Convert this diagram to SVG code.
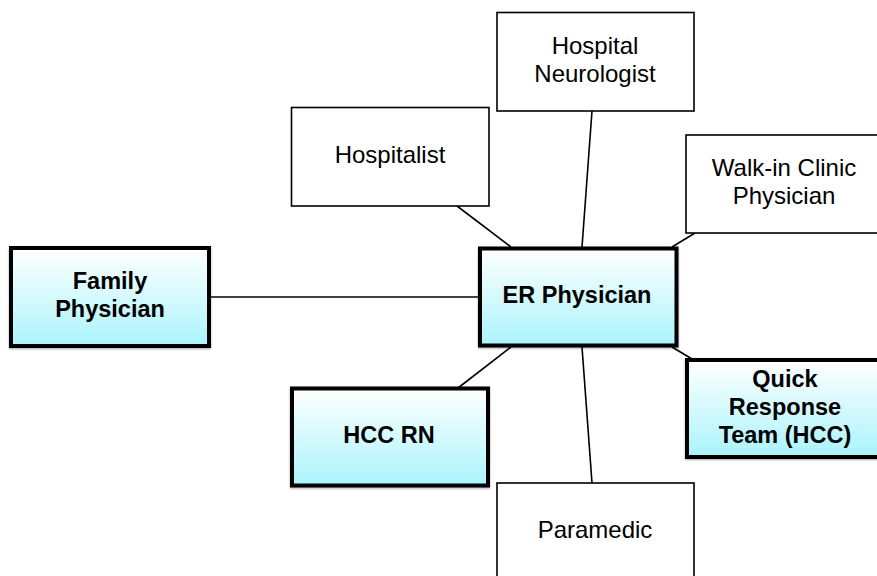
<svg xmlns="http://www.w3.org/2000/svg" width="877" height="576" viewBox="0 0 877 576">
<defs>
<linearGradient id="cyan" x1="0" y1="0" x2="0" y2="1">
<stop offset="0" stop-color="#ffffff"/>
<stop offset="1" stop-color="#aaf4fc"/>
</linearGradient>
<filter id="sh" x="-10%" y="-10%" width="120%" height="120%">
<feGaussianBlur in="SourceAlpha" stdDeviation="1"/>
<feOffset dx="0" dy="1" result="b"/>
<feComponentTransfer><feFuncA type="linear" slope="0.35"/></feComponentTransfer>
<feMerge><feMergeNode/><feMergeNode in="SourceGraphic"/></feMerge>
</filter>
</defs>
<style>
.thin{fill:#ffffff;stroke:#000;stroke-width:1.6}
.thick{fill:url(#cyan);stroke:#000;stroke-width:4;filter:url(#sh)}
.reg{font-family:"Liberation Sans",Arial,sans-serif;font-size:24px;fill:#000;text-anchor:middle}
.bold{font-family:"Liberation Sans",Arial,sans-serif;font-size:23.5px;font-weight:bold;fill:#000;text-anchor:middle}
.conn line{stroke:#000;stroke-width:1.6}
</style>
<rect width="877" height="576" fill="#ffffff"/>
<g class="conn" id="connectors">
<line x1="210" y1="297" x2="478" y2="297"/>
<line x1="457" y1="206" x2="511" y2="247"/>
<line x1="592" y1="111" x2="582" y2="247"/>
<line x1="695" y1="233" x2="672" y2="247"/>
<line x1="511" y1="347" x2="458" y2="388"/>
<line x1="582" y1="347" x2="592" y2="483"/>
<line x1="672" y1="347" x2="692" y2="359"/>
</g>
<g id="hospitalist">
<rect class="thin" x="291.5" y="107.5" width="197.5" height="98.5"/>
<text class="reg" x="390" y="163">Hospitalist</text>
</g>
<g id="neurologist">
<rect class="thin" x="497" y="12.5" width="197" height="98.5"/>
<text class="reg" x="595" y="54">Hospital</text>
<text class="reg" x="595" y="82">Neurologist</text>
</g>
<g id="walkin">
<rect class="thin" x="686" y="135" width="197" height="98"/>
<text class="reg" x="784" y="176">Walk-in Clinic</text>
<text class="reg" x="784" y="204">Physician</text>
</g>
<g id="paramedic">
<rect class="thin" x="497" y="483" width="197" height="98"/>
<text class="reg" x="595" y="538">Paramedic</text>
</g>
<g id="family">
<rect class="thick" x="11" y="248" width="198" height="98"/>
<text class="bold" x="110" y="289">Family</text>
<text class="bold" x="110" y="317">Physician</text>
</g>
<g id="er">
<rect class="thick" x="480" y="248.5" width="196.5" height="97"/>
<text class="bold" x="577" y="303">ER Physician</text>
</g>
<g id="hccrn">
<rect class="thick" x="292" y="388.5" width="196" height="97"/>
<text class="bold" x="389" y="443">HCC RN</text>
</g>
<g id="qrt">
<rect class="thick" x="687" y="360" width="198" height="97"/>
<text class="bold" x="785" y="387">Quick</text>
<text class="bold" x="785" y="415">Response</text>
<text class="bold" x="785" y="443">Team (HCC)</text>
</g>
</svg>
